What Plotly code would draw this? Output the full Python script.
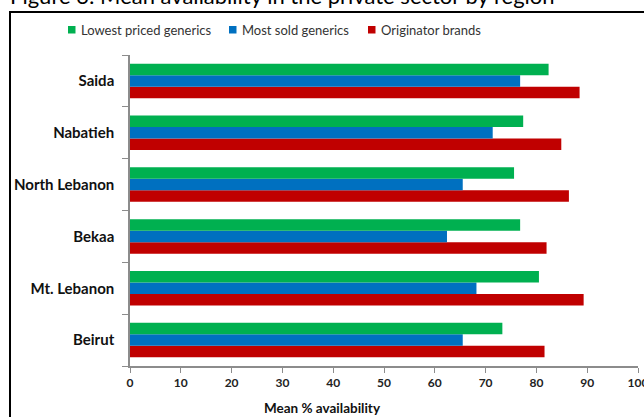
import plotly.graph_objects as go

regions = ["Beirut", "Mt. Lebanon", "Bekaa", "North Lebanon", "Nabatieh", "Saida"]
lowest_priced = [73.3, 80.5, 76.8, 75.6, 77.4, 82.4]
most_sold = [65.5, 68.2, 62.4, 65.5, 71.4, 76.8]
originator = [81.6, 89.3, 82.0, 86.4, 84.9, 88.5]
series_names = ["Lowest priced generics", "Most sold generics", "Originator brands"]
series_colors = ["#00B050", "#0070C0", "#C00000"]
x_ticks = [0, 10, 20, 30, 40, 50, 60, 70, 80, 90, 100]

FONT = "Lato"
W, H = 644, 417
L, R, T, B = 130, 6, 55, 51
PW, PH = W - L - R, H - T - B


def px_x(p):
    return (p - L) / PW


def px_y(p):
    return (H - B - p) / PH


fig = go.Figure()
series_values = [lowest_priced, most_sold, originator]
# add bottom-most bar of each group first (Plotly stacks group offsets upward)
for name, color, vals in reversed(list(zip(series_names, series_colors, series_values))):
    fig.add_trace(go.Bar(y=regions, x=vals, orientation="h", name=name,
                         marker=dict(color=color, line=dict(width=0)), showlegend=False))

# legend drawn manually (small squares close to the text, like the original)
legend_square_x = [68, 229, 368]
shapes = [dict(type="rect", xref="paper", yref="paper",
               x0=px_x(10), x1=px_x(660), y0=px_y(430), y1=px_y(12),
               line=dict(color="black", width=2), fillcolor="rgba(0,0,0,0)", layer="below")]
annotations = []
for name, color, sx in zip(series_names, series_colors, legend_square_x):
    shapes.append(dict(type="rect", xref="paper", yref="paper",
                       x0=px_x(sx), x1=px_x(sx + 7.5), y0=px_y(33.5), y1=px_y(26),
                       line=dict(width=0), fillcolor=color))
    annotations.append(dict(text=name, xref="paper", yref="paper",
                            x=px_x(sx + 10.5), y=px_y(30), xanchor="left", yanchor="middle",
                            showarrow=False,
                            font=dict(size=13, family=FONT, color="#333333")))

annotations += [
    dict(text="Mean % availability", xref="paper", yref="paper",
         x=px_x(322), y=px_y(408), xanchor="center", yanchor="middle", showarrow=False,
         font=dict(size=13.5, family=FONT, color="#111111", weight="bold")),
    dict(text="Figure 3: Mean availability in the private sector by region", xref="paper", yref="paper",
         x=px_x(8), y=px_y(11), xanchor="left", yanchor="bottom", showarrow=False,
         font=dict(size=22, family=FONT, color="#000000")),
]

fig.update_layout(
    width=W, height=H,
    margin=dict(l=L, r=R, t=T, b=B, pad=0, autoexpand=False),
    paper_bgcolor="white", plot_bgcolor="white",
    barmode="group", bargap=0.333, bargroupgap=0,
    font=dict(family=FONT, color="#222222"),
    showlegend=False,
    xaxis=dict(range=[0, 100], tickvals=x_ticks, ticktext=[str(v) for v in x_ticks],
               showgrid=False, zeroline=False, showline=True, linecolor="#8C8C8C", linewidth=1.5,
               ticks="outside", ticklen=5, tickcolor="#8C8C8C", tickwidth=1,
               ticklabeloverflow="allow", automargin=False,
               tickfont=dict(size=12, family=FONT, color="#222222", weight="bold")),
    yaxis=dict(showgrid=False, zeroline=False, showline=True, linecolor="#8C8C8C", linewidth=1.5,
               ticks="outside", ticklen=6, tickcolor="#8C8C8C", tickson="boundaries",
               ticklabelstandoff=11, automargin=False,
               tickfont=dict(size=15, family=FONT, color="#111111", weight="bold")),
    shapes=shapes,
    annotations=annotations,
)

fig.write_html("out.html")
